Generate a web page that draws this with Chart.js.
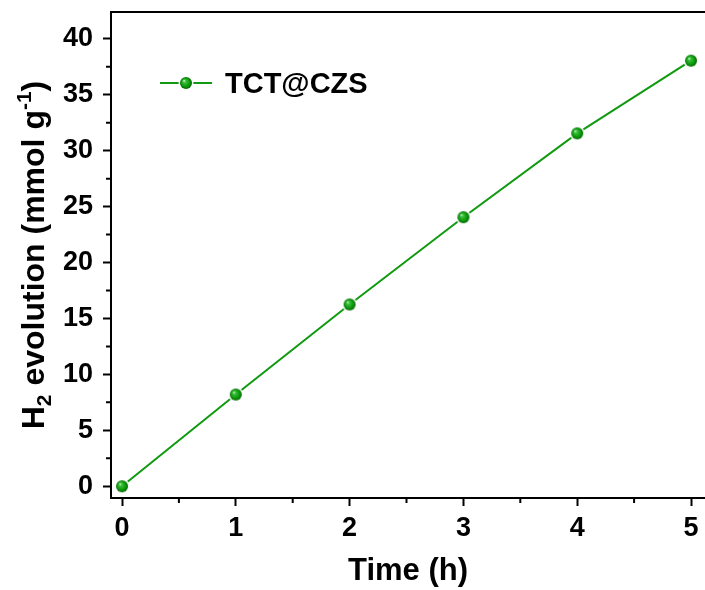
<!DOCTYPE html>
<html>
<head>
<meta charset="utf-8">
<script src="https://cdn.jsdelivr.net/npm/chart.js@4.4.1/dist/chart.umd.min.js"></script>
<style>
html, body { margin: 0; padding: 0; background: #fff; overflow: hidden; }
#wrap { width: 705px; height: 590px; }
</style>
</head>
<body>
<div id="wrap"><canvas id="h2Chart" width="705" height="590"></canvas></div>
<script>
'use strict'

// data
const timeHours = [0, 1, 2, 3, 4, 5];
const h2Evolution = [0, 8.2, 16.25, 24.05, 31.55, 38.05];
const seriesLabel = "TCT@CZS";

const xTickValues = [0, 1, 2, 3, 4, 5];
const xMinorTicks = [0.5, 1.5, 2.5, 3.5, 4.5];
const yTickValues = [0, 5, 10, 15, 20, 25, 30, 35, 40];
const yMinorTicks = [2.5, 7.5, 12.5, 17.5, 22.5, 27.5, 32.5, 37.5];

const lineGreen = '#109a10';
const fontFamily = "'Liberation Sans', Arial, sans-serif";

// shaded ball marker like the original plot
function makeSphere(r) {
    const size = Math.ceil(r * 2 + 4);
    const c = document.createElement('canvas');
    c.width = size;
    c.height = size;
    const ctx = c.getContext('2d');
    const cx = size / 2, cy = size / 2;
    ctx.beginPath();
    ctx.arc(cx, cy, r + 1.5, 0, Math.PI * 2);
    ctx.fillStyle = '#fff';
    ctx.fill();
    const g = ctx.createRadialGradient(cx - r * 0.35, cy - r * 0.4, 0, cx, cy, r);
    g.addColorStop(0, '#eaffea');
    g.addColorStop(0.25, '#3cc03c');
    g.addColorStop(0.7, '#0b9a0b');
    g.addColorStop(1, '#066806');
    ctx.beginPath();
    ctx.arc(cx, cy, r, 0, Math.PI * 2);
    ctx.fillStyle = g;
    ctx.fill();
    return c;
}

const sphere = makeSphere(6);

// minor ticks, top frame line, legend and y title
const extras = {
    id: 'extras',
    afterDraw(chart) {
        const { ctx, chartArea, scales } = chart;
        ctx.save();
        ctx.strokeStyle = '#000';
        ctx.lineWidth = 2;
        ctx.beginPath();
        xMinorTicks.forEach(v => {
            const px = scales.x.getPixelForValue(v);
            ctx.moveTo(px, chartArea.bottom);
            ctx.lineTo(px, chartArea.bottom + 5);
        });
        yMinorTicks.forEach(v => {
            const py = scales.y.getPixelForValue(v);
            ctx.moveTo(chartArea.left, py);
            ctx.lineTo(chartArea.left - 5, py);
        });
        ctx.moveTo(chartArea.left - 1, chartArea.top);
        ctx.lineTo(chartArea.right, chartArea.top);
        ctx.stroke();

        // legend
        ctx.strokeStyle = lineGreen;
        ctx.lineWidth = 2;
        ctx.beginPath();
        ctx.moveTo(160, 83);
        ctx.lineTo(212, 83);
        ctx.stroke();
        ctx.drawImage(sphere, 186 - sphere.width / 2, 83 - sphere.height / 2);
        ctx.fillStyle = '#000';
        ctx.font = `bold 29px ${fontFamily}`;
        ctx.textAlign = 'left';
        ctx.textBaseline = 'alphabetic';
        ctx.fillText(seriesLabel, 225, 93);

        // y axis title with sub/superscript
        const big = `bold 32px ${fontFamily}`;
        const small = `bold 21px ${fontFamily}`;
        const parts = [
            { t: 'H', f: big, dy: 0 },
            { t: '2', f: small, dy: 7 },
            { t: ' evolution (mmol g', f: big, dy: 0 },
            { t: '-1', f: small, dy: -13 },
            { t: ')', f: big, dy: 0 }
        ];
        let total = 0;
        parts.forEach(p => { ctx.font = p.f; p.w = ctx.measureText(p.t).width; total += p.w; });
        ctx.translate(44, (chartArea.top + chartArea.bottom) / 2);
        ctx.rotate(-Math.PI / 2);
        let x = -total / 2;
        parts.forEach(p => {
            ctx.font = p.f;
            ctx.fillText(p.t, x, p.dy);
            x += p.w;
        });
        ctx.restore();
    }
};

const config = {
    type: 'line',
    data: {
        datasets: [{
            label: seriesLabel,
            data: timeHours.map((t, i) => ({ x: t, y: h2Evolution[i] })),
            borderColor: lineGreen,
            borderWidth: 2,
            pointStyle: sphere,
            pointRadius: 6,
            tension: 0
        }]
    },
    options: {
        responsive: false,
        animation: false,
        devicePixelRatio: 1,
        layout: { autoPadding: false, padding: { top: 12, right: 0, left: 0, bottom: 0 } },
        plugins: { legend: { display: false }, tooltip: { enabled: false } },
        scales: {
            x: {
                type: 'linear',
                min: -0.0967,
                max: 5.123,
                afterBuildTicks: s => { s.ticks = xTickValues.map(v => ({ value: v })); },
                afterFit: s => { s.height = 92; s.paddingLeft = 0; s.paddingRight = 0; },
                grid: { drawOnChartArea: false, drawTicks: true, tickLength: 8, tickWidth: 2, tickColor: '#000' },
                border: { display: true, color: '#000', width: 2 },
                ticks: {
                    autoSkip: false, maxRotation: 0, color: '#000', padding: 6,
                    font: { family: fontFamily, size: 27, weight: 'bold' }
                },
                title: {
                    display: true, text: 'Time (h)', color: '#000',
                    font: { family: fontFamily, size: 31, weight: 'bold' },
                    padding: { top: 0, bottom: 0 }
                }
            },
            y: {
                type: 'linear',
                min: -1.05,
                max: 42.4,
                afterBuildTicks: s => { s.ticks = yTickValues.map(v => ({ value: v })); },
                afterFit: s => { s.width = 111; s.paddingTop = 0; s.paddingBottom = 0; },
                grid: { drawOnChartArea: false, drawTicks: true, tickLength: 8, tickWidth: 2, tickColor: '#000' },
                border: { display: true, color: '#000', width: 2 },
                ticks: {
                    autoSkip: false, color: '#000', padding: 10,
                    font: { family: fontFamily, size: 27, weight: 'bold' }
                }
            }
        }
    },
    plugins: [extras]
};

new Chart(document.getElementById('h2Chart'), config);
</script>
</body>
</html>
